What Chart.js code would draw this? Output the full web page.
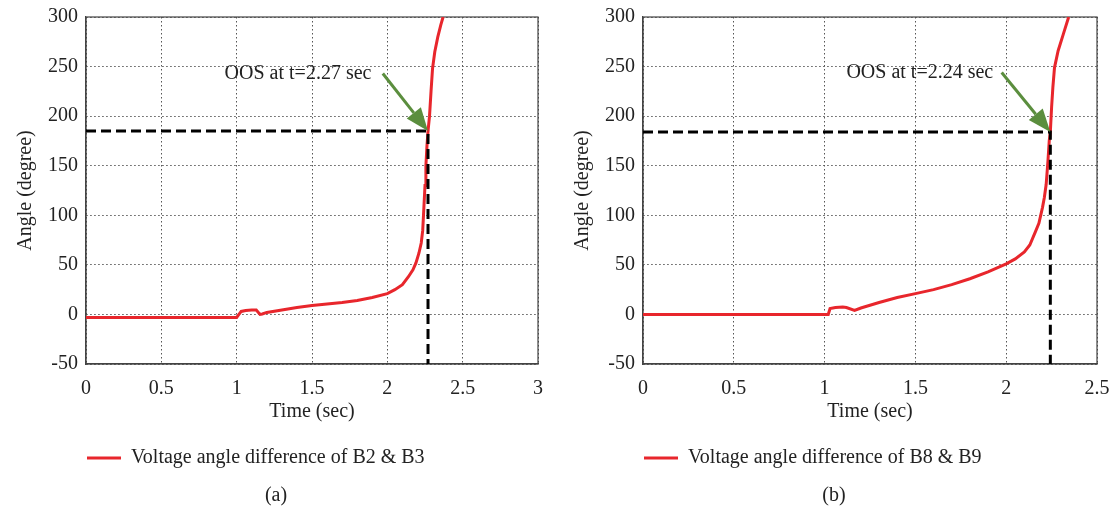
<!DOCTYPE html>
<html>
<head>
<meta charset="utf-8">
<script src="https://cdn.jsdelivr.net/npm/chart.js@4.4.1/dist/chart.umd.min.js"></script>
<style>
    body { margin: 0; background: #fff; }
    .row { display: flex; width: 1114px; height: 510px; }
    .cell { position: relative; width: 557px; height: 510px; }
</style>
</head>
<body>
<div class="row">
    <div class="cell"><canvas id="chartA"></canvas></div>
    <div class="cell"><canvas id="chartB"></canvas></div>
</div>
<script>
// (a) différence d'angle B2 & B3
const timeA  = [0, 1.0, 1.01, 1.03, 1.06, 1.1, 1.13, 1.155, 1.17, 1.2, 1.3, 1.4, 1.5, 1.6, 1.7, 1.8, 1.9, 2.0, 2.05, 2.1, 2.14, 2.17, 2.19, 2.21, 2.225, 2.235, 2.24, 2.25, 2.256, 2.263, 2.27, 2.28, 2.29, 2.30, 2.315, 2.335, 2.355, 2.37];
const angleA = [-3, -3, -1, 3, 4, 4.5, 4.5, 0, 0.5, 2, 4.5, 7, 9, 10.5, 12, 14, 17, 21, 25, 30, 38, 45, 52, 62, 72, 85, 100, 130, 150, 170, 185, 200, 225, 248, 265, 280, 292, 300];

// (b) différence d'angle B8 & B9
const timeB  = [0, 1.0, 1.02, 1.03, 1.06, 1.1, 1.12, 1.165, 1.2, 1.3, 1.4, 1.5, 1.6, 1.7, 1.8, 1.9, 2.0, 2.05, 2.1, 2.13, 2.16, 2.18, 2.2, 2.21, 2.22, 2.23, 2.237, 2.243, 2.25, 2.257, 2.266, 2.286, 2.315, 2.344];
const angleB = [0, 0, 0, 6, 7, 7.5, 7, 4, 6.5, 12, 17, 21, 25, 30, 36, 43, 51, 56, 63, 70, 83, 92, 108, 118, 131, 155, 175, 184, 209, 229, 249, 266, 283, 300];

// axes
const yTicks = [-50, 0, 50, 100, 150, 200, 250, 300];
const xTicksA = [0, 0.5, 1, 1.5, 2, 2.5, 3];
const xTicksB = [0, 0.5, 1, 1.5, 2, 2.5];

// instant de perte de synchronisme (OOS)
const oosA = { t: 2.27, angle: 185, text: 'OOS at t=2.27 sec', textX: 0.92, arrowFrom: [1.97, 243] };
const oosB = { t: 2.243, angle: 184, text: 'OOS at t=2.24 sec', textX: 1.12, arrowFrom: [1.975, 244] };

const FONT = "'Liberation Serif', 'DejaVu Serif', serif";
const RED = '#e8262c';
const GREEN = '#5b8e3e';
const INK = '#222';

// cadre + flèche + texte de l'annotation
const oosPlugin = {
    id: 'oos',
    beforeDatasetsDraw(chart) {
        const { ctx, chartArea: a } = chart;
        ctx.save();
        ctx.strokeStyle = '#444';
        ctx.lineWidth = 1.2;
        ctx.strokeRect(a.left, a.top, a.right - a.left, a.bottom - a.top);
        ctx.restore();
    },
    afterDatasetsDraw(chart, args, opts) {
        const { ctx } = chart;
        const xs = chart.scales.x, ys = chart.scales.y;
        const ev = opts.event;
        const x0 = xs.getPixelForValue(ev.arrowFrom[0]);
        const y0 = ys.getPixelForValue(ev.arrowFrom[1]);
        const x1 = xs.getPixelForValue(ev.t);
        const y1 = ys.getPixelForValue(ev.angle);
        const ang = Math.atan2(y1 - y0, x1 - x0);
        const headLen = 23, headW = 9;
        const bx = x1 - headLen * Math.cos(ang), by = y1 - headLen * Math.sin(ang);

        ctx.save();
        ctx.strokeStyle = GREEN;
        ctx.fillStyle = GREEN;
        ctx.lineWidth = 3;
        ctx.beginPath();
        ctx.moveTo(x0, y0);
        ctx.lineTo(bx, by);
        ctx.stroke();
        ctx.beginPath();
        ctx.moveTo(x1, y1);
        ctx.lineTo(bx + headW * Math.sin(ang), by - headW * Math.cos(ang));
        ctx.lineTo(bx - headW * Math.sin(ang), by + headW * Math.cos(ang));
        ctx.closePath();
        ctx.fill();

        ctx.font = '20px ' + FONT;
        ctx.fillStyle = INK;
        ctx.textAlign = 'left';
        ctx.textBaseline = 'middle';
        ctx.fillText(ev.text, xs.getPixelForValue(ev.textX), y0);
        ctx.restore();
    }
};

function makeChart(canvasId, times, angles, xMax, xTicks, ev, seriesLabel, caption, padRight) {
    const ctx = document.getElementById(canvasId).getContext('2d');
    const points = times.map((t, i) => ({ x: t, y: angles[i] }));
    const guide = [
        { x: 0, y: ev.angle },
        { x: ev.t, y: ev.angle },
        { x: ev.t, y: yTicks[0] },
    ];

    return new Chart(ctx, {
        type: 'line',
        data: {
            datasets: [
                {
                    label: '',
                    data: guide,
                    borderColor: '#000',
                    borderWidth: 3,
                    borderDash: [10, 5],
                    pointRadius: 0,
                    fill: false,
                },
                {
                    label: seriesLabel,
                    data: points,
                    borderColor: RED,
                    backgroundColor: RED,
                    borderWidth: 3,
                    pointRadius: 0,
                    fill: false,
                    tension: 0,
                },
            ],
        },
        options: {
            responsive: true,
            maintainAspectRatio: false,
            animation: false,
            layout: { padding: { left: 14, right: padRight, top: 17, bottom: 2 } },
            plugins: {
                tooltip: { enabled: false },
                legend: {
                    position: 'bottom',
                    align: 'start',
                    fullSize: false,
                    labels: {
                        font: { family: FONT, size: 20 },
                        color: INK,
                        boxWidth: 34,
                        boxHeight: 3,
                        padding: 1,
                        filter: (item) => item.text !== '',
                        generateLabels: (chart) =>
                            Chart.defaults.plugins.legend.labels.generateLabels(chart)
                                .map(l => ({ ...l, lineWidth: 0, fillStyle: RED })),
                    },
                },
                title: {
                    display: true,
                    position: 'bottom',
                    text: caption,
                    font: { family: FONT, size: 20, weight: 'normal' },
                    color: INK,
                    padding: { top: 6, bottom: 0 },
                },
                oos: { event: ev },
            },
            scales: {
                x: {
                    type: 'linear',
                    min: 0,
                    max: xMax,
                    afterBuildTicks: (axis) => { axis.ticks = xTicks.map(v => ({ value: v })); },
                    afterFit: (axis) => { axis.paddingRight = 0; },
                    grid: { color: '#555', lineWidth: 1, drawTicks: false },
                    border: { display: true, color: '#444', width: 1.2, dash: [1.5, 2.5] },
                    ticks: {
                        color: INK,
                        font: { family: FONT, size: 20 },
                        padding: 13,
                        maxRotation: 0,
                        callback: (v) => String(v),
                    },
                    title: {
                        display: true,
                        text: 'Time (sec)',
                        color: INK,
                        font: { family: FONT, size: 20 },
                        padding: { top: -14, bottom: 23 },
                    },
                },
                y: {
                    min: yTicks[0],
                    max: yTicks[yTicks.length - 1],
                    afterBuildTicks: (axis) => { axis.ticks = yTicks.map(v => ({ value: v })); },
                    afterFit: (axis) => { axis.paddingTop = 0; },
                    grid: { color: '#555', lineWidth: 1, drawTicks: false },
                    border: { display: true, color: '#444', width: 1.2, dash: [1.5, 2.5] },
                    ticks: { color: INK, font: { family: FONT, size: 20 }, padding: 8 },
                    title: {
                        display: true,
                        text: 'Angle (degree)',
                        color: INK,
                        font: { family: FONT, size: 20 },
                        padding: { top: 0, bottom: 2 },
                    },
                },
            },
        },
        plugins: [oosPlugin],
    });
}

makeChart('chartA', timeA, angleA, 3, xTicksA, oosA, 'Voltage angle difference of B2 & B3', '(a)', 19);
makeChart('chartB', timeB, angleB, 2.5, xTicksB, oosB, 'Voltage angle difference of B8 & B9', '(b)', 17);
</script>
</body>
</html>
